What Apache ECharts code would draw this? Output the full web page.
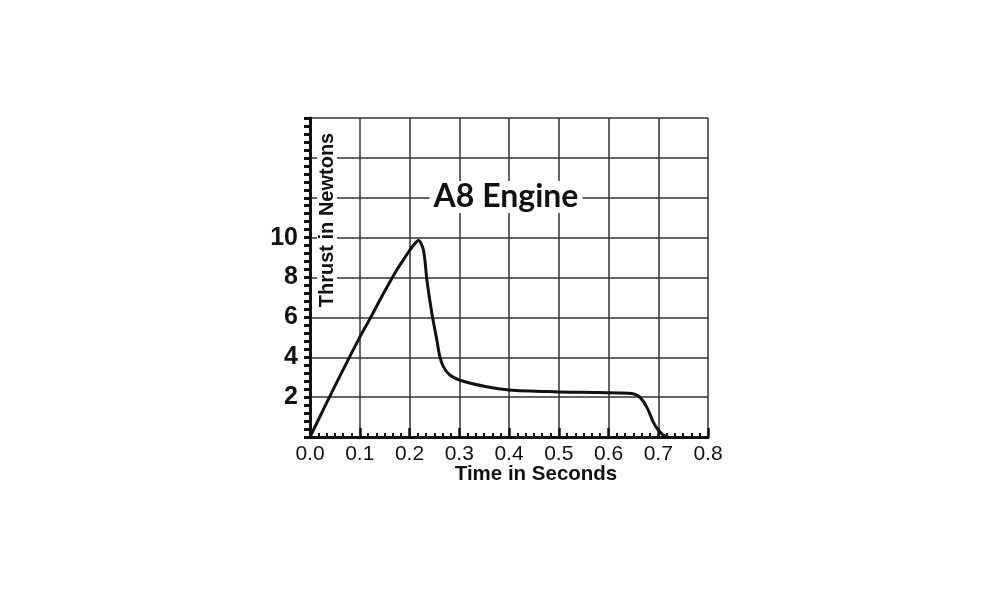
<!DOCTYPE html>
<html>
<head>
<meta charset="utf-8">
<script src="https://cdn.jsdelivr.net/npm/echarts@6/dist/echarts.min.js"></script>
<style>html,body{margin:0;padding:0;background:#fff}#c{width:1000px;height:600px}</style>
</head>
<body>
<div id="c"></div>
<script>
const chartTitle = 'A8 Engine';
const xTitle = 'Time in Seconds';
const yTitle = 'Thrust in Newtons';
const timeSec = [0, 0.05, 0.097, 0.121, 0.14, 0.161, 0.175, 0.188, 0.2, 0.21, 0.218, 0.228, 0.235, 0.245, 0.255, 0.261, 0.268, 0.281, 0.30, 0.355, 0.40, 0.49, 0.58, 0.64, 0.652, 0.663, 0.677, 0.69, 0.70, 0.71, 0.72];
const thrustN = [0, 2.55, 4.86, 5.95, 6.85, 7.8, 8.4, 8.9, 9.35, 9.68, 9.85, 9.38, 7.87, 6.2, 4.86, 4.03, 3.53, 3.11, 2.86, 2.52, 2.36, 2.27, 2.23, 2.2, 2.15, 2.0, 1.5, 0.75, 0.35, 0.1, 0];
const yLabelValues = [2, 4, 6, 8, 10];

const chart = echarts.init(document.getElementById('c'));
chart.setOption({
  animation: false,
  backgroundColor: '#fff',
  grid: { left: 310, top: 118, right: 292, bottom: 163 },
  xAxis: {
    type: 'value', min: 0, max: 0.8, interval: 0.1,
    axisLine: { show: true, lineStyle: { color: '#111', width: 3 } },
    axisTick: { show: true, inside: true, length: 9, lineStyle: { color: '#111', width: 2.5 } },
    minorTick: { show: true, splitNumber: 6, length: 4, lineStyle: { color: '#111', width: 2 } },
    splitLine: { show: true, lineStyle: { color: '#333', width: 1.5 } },
    axisLabel: { formatter: v => v.toFixed(1), fontFamily: '"Liberation Sans", Arial, sans-serif', fontSize: 21, color: '#111', margin: 7 }
  },
  yAxis: {
    type: 'value', min: 0, max: 16, interval: 2,
    axisLine: { show: true, lineStyle: { color: '#111', width: 3 } },
    axisTick: { show: true, inside: false, length: 6, lineStyle: { color: '#111', width: 3 } },
    minorTick: { show: true, splitNumber: 5, length: 6, lineStyle: { color: '#111', width: 3 } },
    splitLine: { show: true, lineStyle: { color: '#333', width: 1.5 } },
    axisLabel: { formatter: v => yLabelValues.indexOf(v) >= 0 ? String(v) : '', fontFamily: '"Liberation Sans", Arial, sans-serif', fontWeight: 'bold', fontSize: 25, color: '#111', margin: 12 }
  },
  series: [{
    type: 'line',
    data: timeSec.map((t, i) => [t, thrustN[i]]),
    showSymbol: false, symbol: 'none',
    smooth: 0.3,
    lineStyle: { color: '#111', width: 3 },
    z: 5
  }],
  graphic: [
    { type: 'text', x: 506, y: 197, z: 100,
      style: { text: chartTitle, font: 'bold 32px Lato, "Open Sans", sans-serif', fill: '#111', align: 'center', verticalAlign: 'middle', backgroundColor: '#fff', padding: [0, 4] } },
    { type: 'text', x: 327, y: 220, z: 100, rotation: Math.PI / 2,
      style: { text: yTitle, font: 'bold 20px "Liberation Sans", Arial, sans-serif', fill: '#111', align: 'center', verticalAlign: 'middle', backgroundColor: '#fff', padding: [0, 2] } },
    { type: 'text', x: 536, y: 474, z: 100,
      style: { text: xTitle, font: 'bold 20.5px "Liberation Sans", Arial, sans-serif', fill: '#111', align: 'center', verticalAlign: 'middle' } }
  ]
});
</script>
</body>
</html>
